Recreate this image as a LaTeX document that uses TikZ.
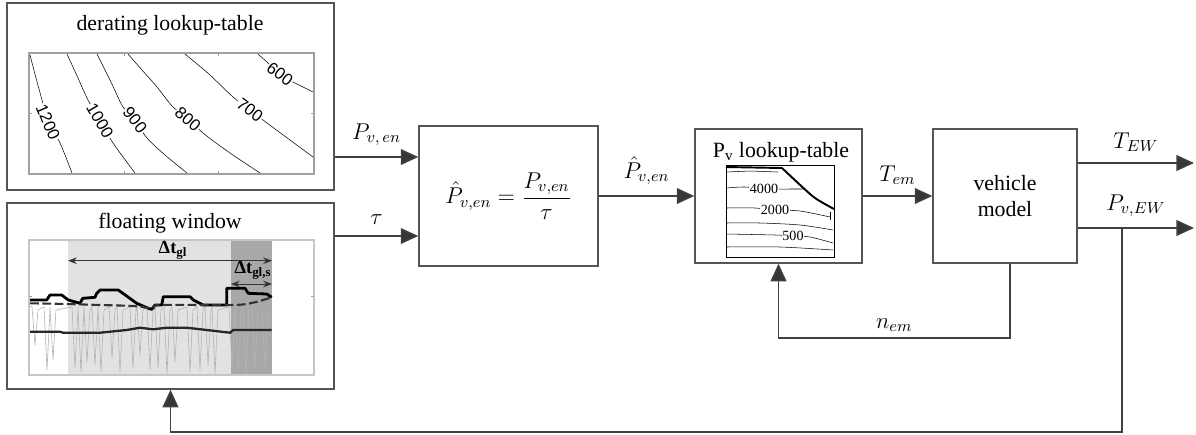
\RequirePackage{fix-cm}
\documentclass[tikz,border=0pt]{standalone}
\usepackage{fontspec}
\setmainfont{Liberation Serif}
\newfontfamily\plotfont{Liberation Sans}
\usetikzlibrary{arrows.meta, positioning, calc}
\definecolor{wirecol}{HTML}{404040}
\definecolor{framecol}{HTML}{555555}
\definecolor{shadelight}{HTML}{E2E2E2}
\definecolor{shadedark}{HTML}{A8A8A8}
\definecolor{axiscol}{HTML}{A0A0A0}
\definecolor{sigcol}{HTML}{B4B4B4}
\tikzset{
  block/.style={draw=framecol, line width=0.8pt, fill=white, inner sep=0pt},
  wire/.style={draw=wirecol, line width=0.85pt, -{Triangle[length=10pt, width=9pt, fill=wirecol!85!black]}},
  lbl/.style={above=5pt, inner sep=1pt, font=\fontsize{13}{15}\selectfont},
  contour/.style={draw=black, line width=0.3pt},
  clabel/.style={fill=white, inner sep=0.4pt, font=\plotfont\fontsize{9.5}{10}\selectfont},
  plabel/.style={fill=white, inner sep=0.4pt, font=\fontsize{8}{9}\selectfont},
  sig/.style={draw=sigcol, line width=0.35pt},
}

\begin{document}
\begin{tikzpicture}[x=0.02cm, y=-0.02cm, font=\fontsize{12.4}{15}\selectfont]
  \useasboundingbox (0,0) rectangle (1196,434);

  % Blocks
  \node[block, minimum width=6.54cm, minimum height=3.74cm] (derate) at (170.5,96.5) {};
  \node[block, minimum width=6.54cm, minimum height=3.72cm] (floatwin) at (170.5,296) {};
  \node[block, minimum width=3.58cm, minimum height=2.8cm, font=\fontsize{13}{15}\selectfont] (formula) at (508.5,196)
       {$\displaystyle\hat{P}_{v,en}=\frac{P_{v,en}}{\tau}$};
  \node[block, minimum width=3.34cm, minimum height=2.68cm] (pvlut) at (778.5,196) {};
  \node[block, minimum width=2.88cm, minimum height=2.68cm, align=center] (vehicle) at (1005,196)
       {vehicle\\model};

  % Titles
  \node (deratetitle) at (170,25) {derating lookup-table};
  \node (floattitle) at (170,223) {floating window};
  \node (pvluttitle) at (781,152) {P\textsubscript{v} lookup-table};

  % Derating map
  \draw[axiscol, line width=0.6pt] (29,53) rectangle (314,174);
  \foreach \tx in {124,218} {
    \draw[axiscol, line width=0.5pt] (\tx,53) -- (\tx,56) (\tx,174) -- (\tx,171);
  }
  \draw[axiscol, line width=0.5pt] (29,113) -- (32,113) (314,113) -- (311,113);
  \draw[contour] plot[smooth] coordinates {(30,55) (36,78) (42,100) (48,122) (60,143) (72,173)};
  \draw[contour] plot[smooth] coordinates {(67,54) (78,78) (88,100) (100,120) (113,143) (135,173)};
  \draw[contour] plot[smooth] coordinates {(97,54) (110,80) (123,107) (135,120) (147,138) (165,155) (187,173)};
  \draw[contour] plot[smooth] coordinates {(128,54) (142,70) (157,87) (173,107) (188,118) (203,133) (230,153) (260,173)};
  \draw[contour] plot[smooth] coordinates {(185,54) (210,75) (233,97) (250,110) (267,123) (290,140) (313,157)};
  \draw[contour] plot[smooth] coordinates {(258,54) (268,63) (280,75) (293,82) (313,92)};
  \node[clabel, rotate=-67] (c1200) at (48,122) {1200};
  \node[clabel, rotate=-60] (c1000) at (100,121) {1000};
  \node[clabel, rotate=-52] (c900) at (135,120) {900};
  \node[clabel, rotate=-41] (c800) at (188,119) {800};
  \node[clabel, rotate=-37] (c700) at (250,110) {700};
  \node[clabel, rotate=-37] (c600) at (280,74) {600};

  % Floating window plot
  \fill[shadelight] (68,240) rectangle (231,375);
  \fill[shadedark] (231,240) rectangle (272,375);
  \draw[axiscol!60, line width=0.6pt] (29,240) rectangle (314,375);
  \draw[axiscol, line width=0.5pt] (29,296) -- (32,296) (314,296) -- (311,296);
  \draw[sig] (29,306) \foreach \sx/\sy in {35/345, 47/370, 53/360, 75/368, 81/372, 87/362, 95/365,
      101/372, 112/358, 120/372, 133/368, 140/355, 150/370, 158/368, 167/374, 175/362, 190/372,
      200/370, 208/365, 215/374, 232/368, 238/372, 246/374, 255/370, 265/368}
      { -- (\sx-3,307) -- (\sx,\sy) -- (\sx+3,310) } -- (272,316);
  \draw[black, line width=1.6pt, line join=round] (30,300) -- (46.7,300) -- (50,295) -- (61.7,295) -- (68.3,300)
      -- (80,303.3) -- (82.7,298.3) -- (95,297.3) -- (96.7,293.3) -- (100,290) -- (118.3,290)
      -- (136.7,303.3) -- (148.3,308.3) -- (151.7,309.3) -- (155,305) -- (161.7,305) -- (163.3,296.7)
      -- (190,296.7) -- (193.3,300) -- (203.3,305) -- (226.7,305) -- (226.7,288.3) -- (245,288.3)
      -- (248.3,293.3) -- (266.7,294) -- (271.7,297.3);
  \draw[black!80, line width=1.2pt, dashed, dash pattern=on 5pt off 2pt] plot[smooth] coordinates
      {(30,303.3) (66.7,304) (100,305) (133,306) (153,308.3) (160,305) (233,305) (253,302.7) (271.7,297.3)};
  \draw[black!85, line width=1.3pt] (30,331.7) -- (60,331.7) -- (63,332.7) -- (100,332.7) -- (126.7,330)
      -- (140,327.7) -- (153,329.3) -- (166.7,327.7) -- (186.7,327.7) -- (206.7,330) -- (230,332.7)
      -- (233.3,330) -- (271.7,330);
  \draw[black!80, line width=0.5pt, {Stealth[length=5pt]}-{Stealth[length=5pt]}] (68,260.7) -- (272,260.7);
  \draw[black!80, line width=0.5pt, {Stealth[length=5pt]}-{Stealth[length=5pt]}] (231,284) -- (272,284);
  \node[inner sep=0pt, font=\fontsize{10.5}{11}\selectfont\bfseries] (dtgl) at (173,250) {Δt\textsubscript{gl}};
  \node[inner sep=0pt, font=\fontsize{10.5}{11}\selectfont\bfseries] (dtgls) at (253,270) {Δt\textsubscript{gl,s}};

  % Pv lookup map
  \draw[black, line width=0.5pt] (726,165) rectangle (834,257);
  \draw[contour] (726,172) -- (750,171) -- (778,172);
  \draw[contour] plot[smooth] coordinates {(726,188) (745,187) (766,189) (790,189) (805,189)};
  \draw[contour] plot[smooth] coordinates {(726,208) (755,208) (773,210) (800,211) (830,217)};
  \draw[contour] (830,212) -- (830,220);
  \draw[contour] plot[smooth] coordinates {(726,223) (760,223) (800,225) (833,230)};
  \draw[contour] plot[smooth] coordinates {(726,234) (775,235) (793,236) (810,237) (833,243)};
  \draw[contour] plot[smooth] coordinates {(726,247) (780,247) (833,250)};
  \draw[black, line width=1.1pt] (726,167) -- (782,168) plot[smooth] coordinates {(782,168) (798,183) (815,198) (834,209)};
  \node[plabel] (p4000) at (764,189) {4000};
  \node[plabel] (p2000) at (775,210) {2000};
  \node[plabel] (p500) at (793,236) {500};

  % Signal connectors
  \draw[wire] (derate.east |- 0,157) -- node[lbl] {$P_{v,\,en}$} (formula.west |- 0,157);
  \draw[wire] (floatwin.east |- 0,236) -- node[lbl] {$\tau$} (formula.west |- 0,236);
  \draw[wire] (formula.east) -- node[lbl] {$\hat{P}_{v,en}$} (pvlut.west);
  \draw[wire] (pvlut.east) -- node[lbl] {$T_{em}$} (vehicle.west);
  \coordinate (outT) at (1194,163);
  \coordinate (outP) at (1194,228);
  \draw[wire] (vehicle.east |- outT) -- node[lbl] {$T_{EW}$} (outT);
  \draw[wire] (vehicle.east |- outP) -- node[lbl] {$P_{v,EW}$} (outP);

  % Feedback loops
  \draw[wire] (vehicle.south -| 1010,0) |- node[lbl, pos=0.75, above=2pt] {$n_{em}$} (pvlut.south |- 0,338) -- (pvlut.south);
  \coordinate (tap) at (1122,228);
  \draw[wire] (tap) |- (floatwin.south |- 0,432) -- (floatwin.south);
\end{tikzpicture}
\end{document}
